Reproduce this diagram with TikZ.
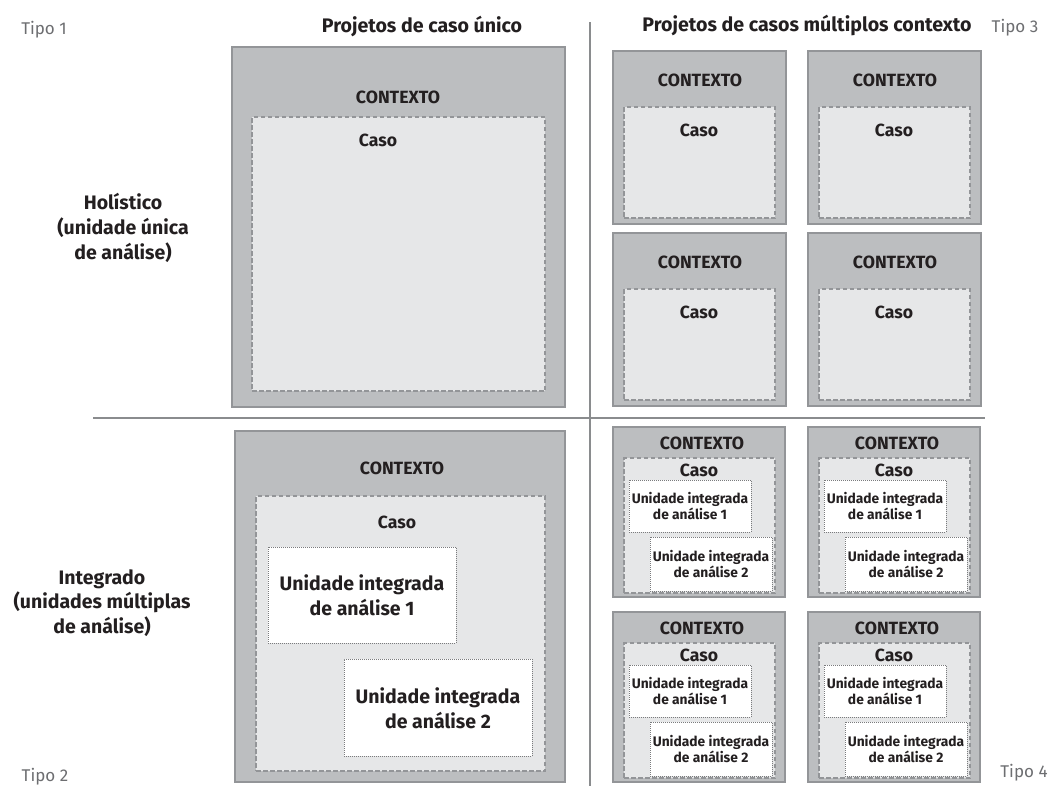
\documentclass[tikz,border=0pt]{standalone}
\usepackage{fontspec}
\setmainfont{Fira Sans}
\definecolor{ctxfill}{HTML}{BCBEC0}
\definecolor{ctxline}{HTML}{939598}
\definecolor{casofill}{HTML}{E6E7E8}
\definecolor{casoline}{HTML}{939598}
\definecolor{unitline}{HTML}{7A7B7D}
\definecolor{txt}{HTML}{231F20}
\definecolor{tipo}{HTML}{6D6E71}
\definecolor{divline}{HTML}{8A8C8E}
\newcommand\intbox[3]{%
  \node[ctx, minimum width=172pt, minimum height=170pt] (#1) at (#2,#3) {};
  \node[caso, minimum width=151pt, minimum height=135pt] (#1c) at ({#2+11},{#3+31}) {};
  \node[unitbox, minimum width=122pt, minimum height=52pt] (#1u1) at ({#2+16},{#3+53}) {};
  \node[unitbox, minimum width=122pt, minimum height=54pt] (#1u2) at ({#2+37},{#3+110}) {};
  \node[ctxlbl] (#1l) at ({#2+89},{#3+16}) {CONTEXTO};
  \node[casolbl] (#1cl) at ({#2+86},{#3+43}) {Caso};
  \node[smallunit] (#1t1) at ({#2+77},{#3+79}) {Unidade integrada\\de análise 1};
  \node[smallunit] (#1t2) at ({#2+98},{#3+137}) {Unidade integrada\\de análise 2};
}
\newcommand\holbox[3]{%
  \node[ctx, minimum width=173pt, minimum height=173pt] (#1) at (#2,#3) {};
  \node[caso, minimum width=151pt, minimum height=111pt] (#1c) at ({#2+11},{#3+56}) {};
  \node[ctxlbl] (#1l) at ({#2+87},{#3+29}) {CONTEXTO};
  \node[casolbl] (#1cl) at ({#2+86},{#3+79}) {Caso};
}
\begin{document}
\begin{tikzpicture}[x=1pt,y=-1pt,
  ctx/.style={draw=ctxline, fill=ctxfill, line width=2pt, anchor=north west, inner sep=0pt, outer sep=0pt},
  caso/.style={draw=casoline, fill=casofill, line width=1.3pt, dash pattern=on 4.5pt off 2.5pt, anchor=north west, inner sep=0pt, outer sep=0pt},
  unitbox/.style={draw=unitline, fill=white, line width=1pt, dash pattern=on 1pt off 1pt, anchor=north west, inner sep=0pt, outer sep=0pt},
  ctxlbl/.style={font=\bfseries\fontsize{17.7}{20}\selectfont, text=txt, inner sep=0pt},
  casolbl/.style={font=\bfseries\fontsize{17.6}{21}\selectfont, text=txt, inner sep=0pt},
  smallunit/.style={font=\bfseries\fontsize{13.8}{16}\selectfont, text=txt, inner sep=0pt, align=center},
  bigunit/.style={font=\bfseries\fontsize{19.5}{24.5}\selectfont, text=txt, inner sep=0pt, align=center},
  head/.style={font=\bfseries\fontsize{19.6}{22}\selectfont, text=txt, inner sep=0pt},
  rowlbl/.style={font=\bfseries\fontsize{19.5}{24.7}\selectfont, text=txt, inner sep=0pt, align=center},
  tipolbl/.style={font=\fontsize{17}{19}\selectfont, text=tipo, inner sep=0pt},
  divider/.style={draw=divline, line width=2.5pt}]
\useasboundingbox (0,0) rectangle (1051,785);
\fill[white] (0,0) rectangle (1051,785);
% dividers
\coordinate (vtop) at (590,22);
\coordinate (vbot) at (590,786);
\coordinate (hl) at (93,418);
\coordinate (hr) at (985,418);
\draw[divider] (vtop) -- (vbot);
\draw[divider] (hl) -- (hr);
% headers and labels
\node[head] (h1) at (422,26) {Projetos de caso único};
\node[head] (h2) at (807,25) {Projetos de casos múltiplos contexto};
\node[tipolbl] (t1) at (44,30) {Tipo 1};
\node[tipolbl] (t2) at (45,777) {Tipo 2};
\node[tipolbl] (t3) at (1015,28) {Tipo 3};
\node[tipolbl] (t4) at (1024,773) {Tipo 4};
\node[rowlbl] (hol) at (123,228) {Holístico\\(unidade única\\de análise)};
\node[rowlbl] (int) at (102,603) {Integrado\\(unidades múltiplas\\de análise)};
% Tipo 1
\node[ctx, minimum width=333pt, minimum height=360pt] (A) at (232,47) {};
\node[caso, minimum width=293pt, minimum height=274pt] (Ac) at (252,117) {};
\node[ctxlbl] (Al) at (398,97) {CONTEXTO};
\node[casolbl] (Acl) at (378,140) {Caso};
% Tipo 3
\holbox{B1}{613}{51}
\holbox{B2}{808}{51}
\holbox{B3}{613}{233}
\holbox{B4}{808}{233}
% Tipo 2
\node[ctx, minimum width=330pt, minimum height=351pt] (C) at (235,431) {};
\node[caso, minimum width=289pt, minimum height=275pt] (Cc) at (256,496) {};
\node[unitbox, minimum width=188pt, minimum height=96pt] (Cu1) at (268,547) {};
\node[unitbox, minimum width=188pt, minimum height=97pt] (Cu2) at (344,659) {};
\node[ctxlbl] (Cl) at (402,468) {CONTEXTO};
\node[casolbl] (Ccl) at (397,522) {Caso};
\node[bigunit] (Ct1) at (362,595) {Unidade integrada\\de análise 1};
\node[bigunit] (Ct2) at (438,708) {Unidade integrada\\de análise 2};
% Tipo 4
\intbox{D1}{613}{427}
\intbox{D2}{808}{427}
\intbox{D3}{613}{612}
\intbox{D4}{808}{612}
\end{tikzpicture}
\end{document}
